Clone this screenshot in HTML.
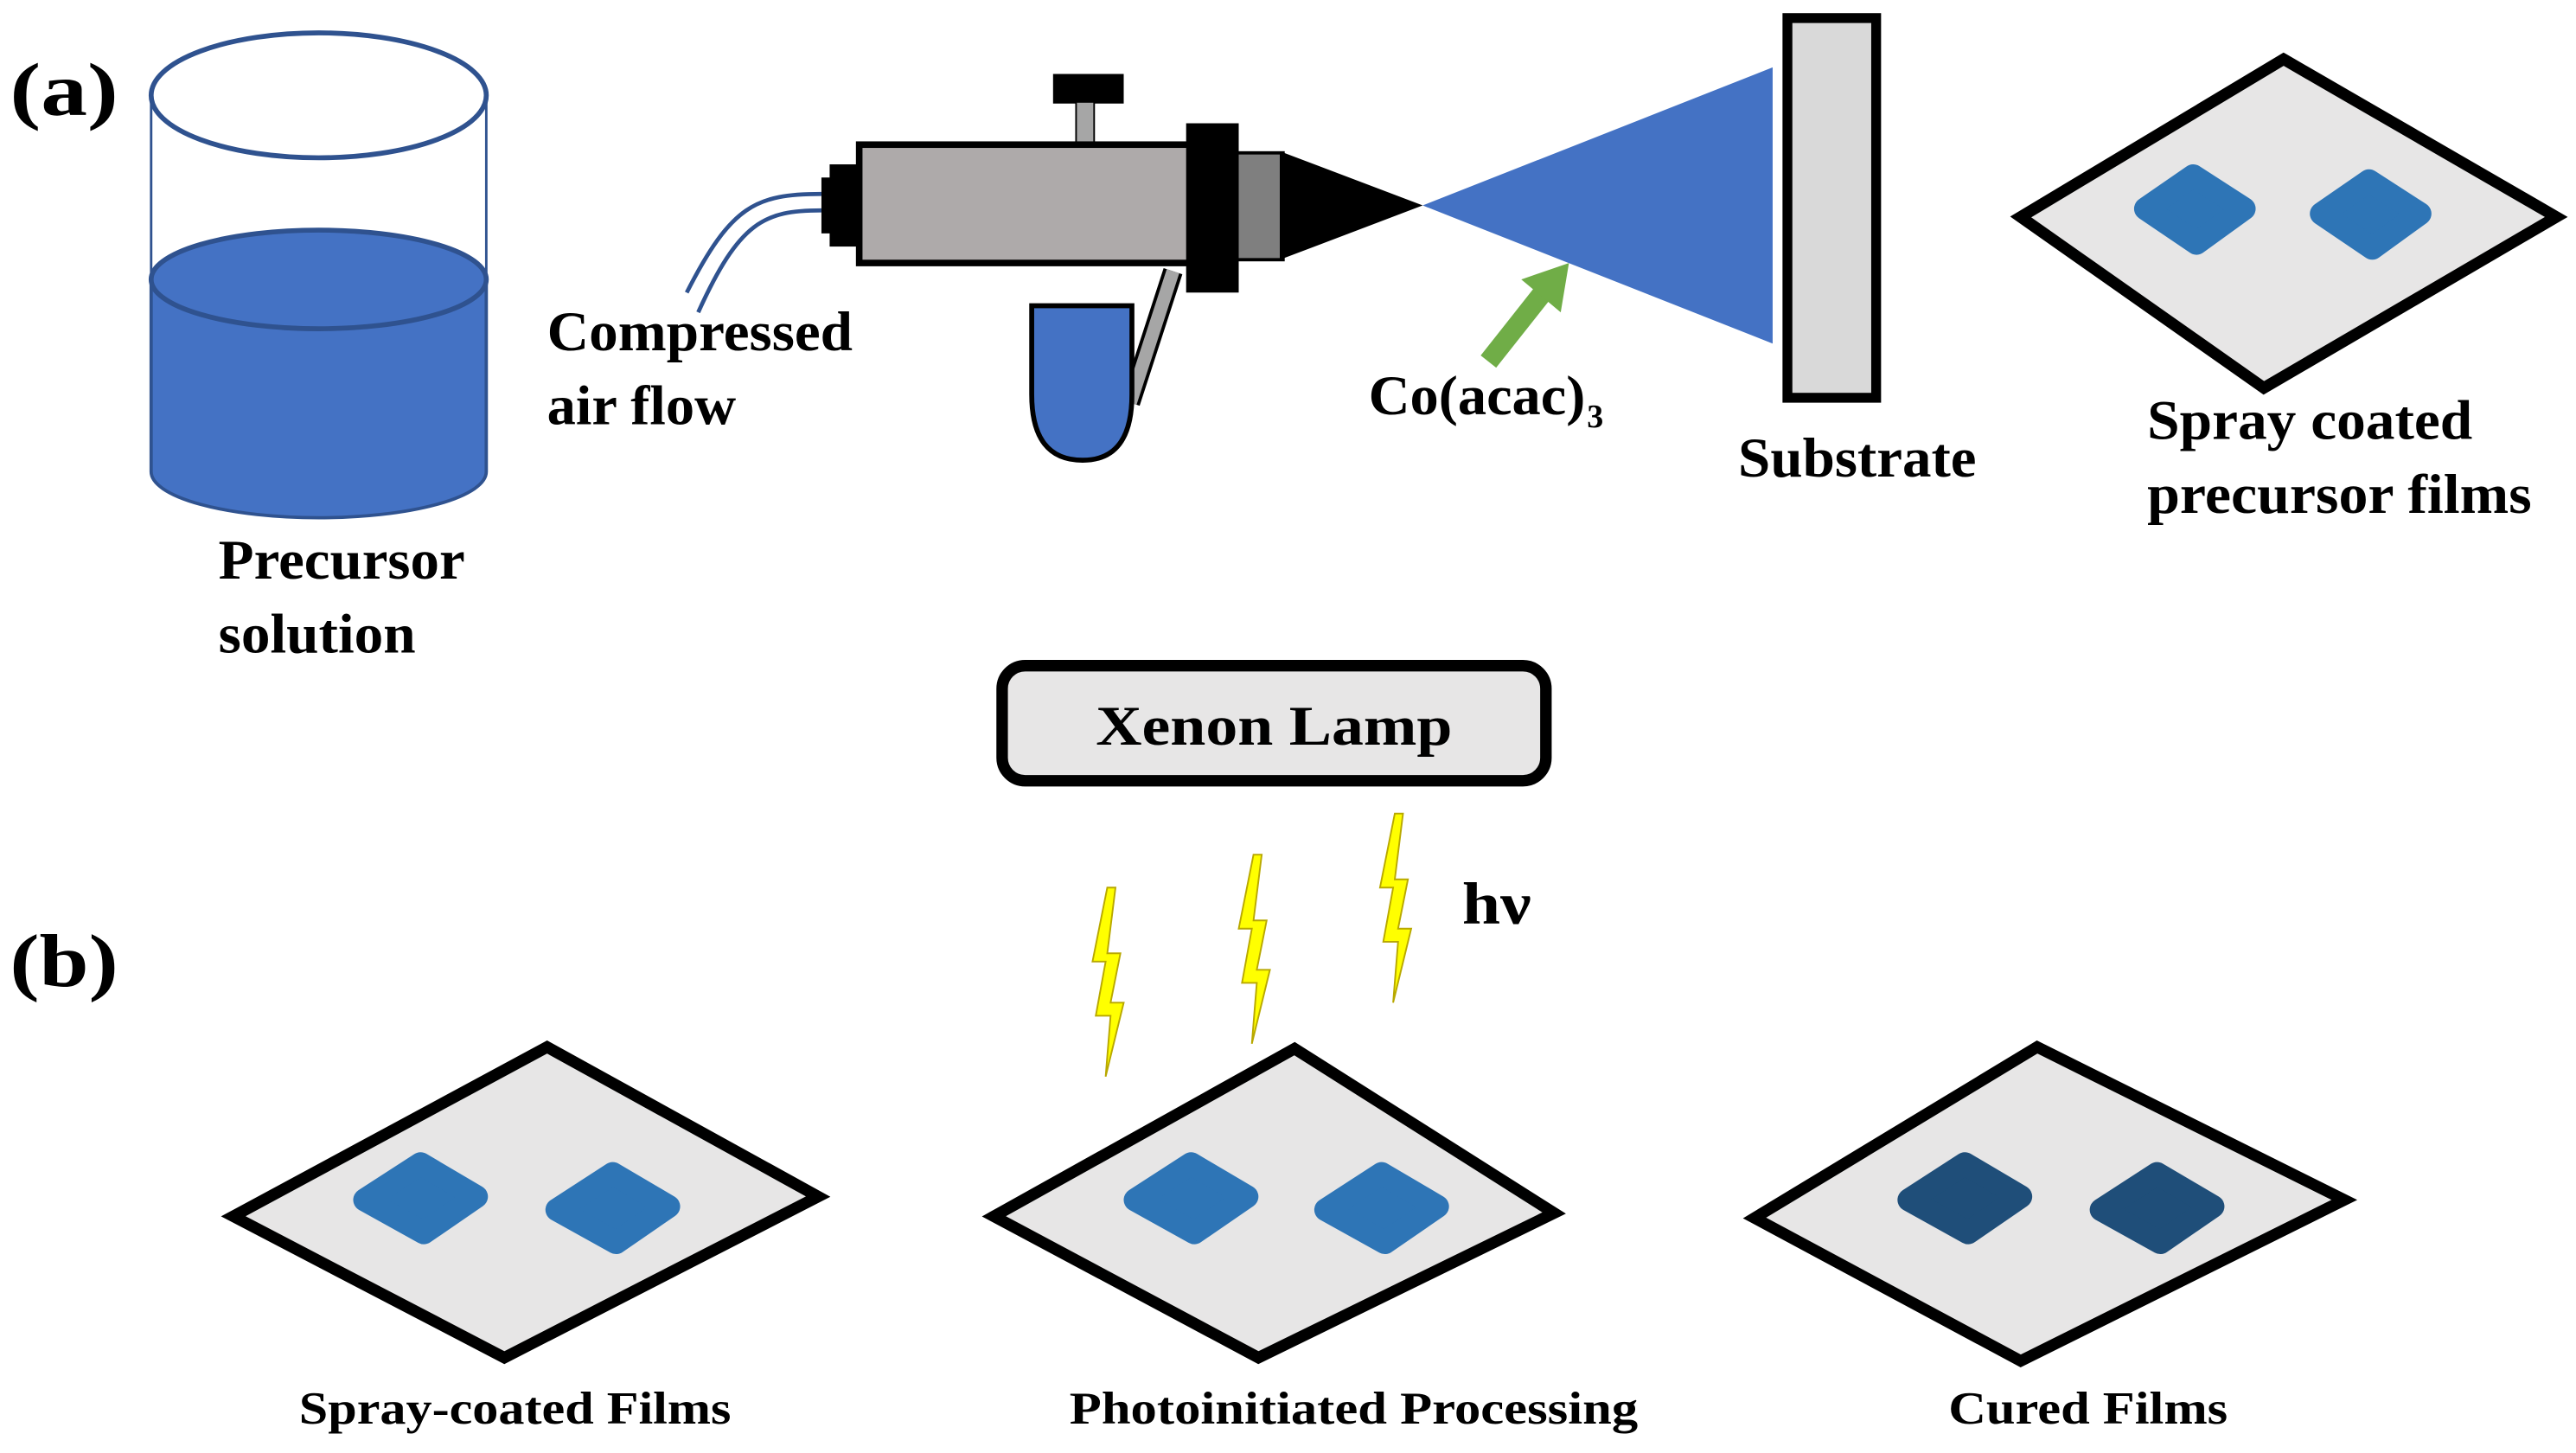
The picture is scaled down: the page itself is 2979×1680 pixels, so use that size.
<!DOCTYPE html>
<html><head><meta charset="utf-8"><style>
html,body{margin:0;padding:0;background:#fff;}
svg{display:block;}
text{font-family:"Liberation Serif",serif;font-weight:bold;fill:#000;}
</style></head><body>
<svg width="2979" height="1680" viewBox="0 0 1568 884" preserveAspectRatio="none" xmlns="http://www.w3.org/2000/svg">
<rect width="1568" height="884" fill="#fff"/>
<text x="6" y="70" font-size="46" textLength="66" lengthAdjust="spacingAndGlyphs">(a)</text>
<text x="6" y="600" font-size="46" textLength="66" lengthAdjust="spacingAndGlyphs">(b)</text>

<!-- beaker -->
<path d="M92,170 L92,287 A102,28 0 0 0 296,287 L296,170 Z" fill="#4472C4" stroke="#2F528F" stroke-width="2"/>
<ellipse cx="194" cy="170" rx="102" ry="30" fill="#4472C4" stroke="#2F528F" stroke-width="3"/>
<line x1="92" y1="58" x2="92" y2="287" stroke="#2F528F" stroke-width="1.5"/>
<line x1="296" y1="58" x2="296" y2="287" stroke="#2F528F" stroke-width="1.5"/>
<ellipse cx="194" cy="58" rx="102" ry="38" fill="none" stroke="#2F528F" stroke-width="3"/>
<text x="133" y="352" font-size="34" textLength="150" lengthAdjust="spacingAndGlyphs">Precursor</text>
<text x="133" y="397" font-size="34" textLength="120" lengthAdjust="spacingAndGlyphs">solution</text>

<!-- tubes -->
<path d="M500,118 C460,118 445,125 418,178" fill="none" stroke="#2F528F" stroke-width="2.5"/>
<path d="M500,128 C465,128 450,135 425,190" fill="none" stroke="#2F528F" stroke-width="2.5"/>
<text x="333" y="213" font-size="34" textLength="186" lengthAdjust="spacingAndGlyphs">Compressed</text>
<text x="333" y="258" font-size="34" textLength="115" lengthAdjust="spacingAndGlyphs">air flow</text>

<!-- gun -->
<rect x="641" y="45" width="43" height="18" fill="#000"/>
<rect x="655" y="62" width="11" height="28" fill="#A6A6A6" stroke="#000" stroke-width="1"/>
<line x1="714" y1="165" x2="688" y2="245" stroke="#000" stroke-width="12"/>
<line x1="714" y1="165" x2="688" y2="245" stroke="#A6A6A6" stroke-width="8"/>
<path d="M628,186 L689,186 L689,240 Q689,280 659,280 Q628,280 628,240 Z" fill="#4472C4" stroke="#000" stroke-width="3"/>
<rect x="505" y="100" width="20" height="50" fill="#000"/>
<rect x="500" y="108" width="10" height="34" fill="#000"/>
<rect x="523" y="88" width="203" height="72" fill="#AEAAAA" stroke="#000" stroke-width="4"/>
<rect x="752" y="93" width="29" height="65" fill="#7F7F7F" stroke="#000" stroke-width="2"/>
<rect x="722" y="75" width="32" height="103" fill="#000"/>
<polygon points="779,92 866,125 779,158" fill="#000"/>

<!-- spray -->
<polygon points="866,125 1079,41 1079,209" fill="#4472C4"/>
<line x1="906" y1="220" x2="940" y2="177" stroke="#70AD47" stroke-width="12"/>
<polygon points="955,160 926,170 950,190" fill="#70AD47"/>
<text x="833" y="252" font-size="34" textLength="132" lengthAdjust="spacingAndGlyphs">Co(acac)</text>
<text x="966" y="260" font-size="20">3</text>

<rect x="1088" y="11" width="54" height="231" fill="#D9D9D9" stroke="#000" stroke-width="6"/>
<text x="1058" y="290" font-size="34" textLength="145" lengthAdjust="spacingAndGlyphs">Substrate</text>

<!-- diamond top right -->
<polygon points="1390,36 1556,132 1378,236 1230,132" fill="#E7E6E6" stroke="#000" stroke-width="7" stroke-linejoin="miter"/>
<polygon points="1335,107 1366,127 1337,148 1306,127" fill="#2E75B6" stroke="#2E75B6" stroke-width="14" stroke-linejoin="round"/>
<polygon points="1442,110 1473,130 1444,151 1413,130" fill="#2E75B6" stroke="#2E75B6" stroke-width="14" stroke-linejoin="round"/>
<text x="1307" y="267" font-size="34" textLength="198" lengthAdjust="spacingAndGlyphs">Spray coated</text>
<text x="1307" y="312" font-size="34" textLength="234" lengthAdjust="spacingAndGlyphs">precursor films</text>

<!-- lamp -->
<rect x="610" y="405" width="331" height="70" rx="14" fill="#E7E6E6" stroke="#000" stroke-width="7"/>
<text x="667" y="453" font-size="34" textLength="217" lengthAdjust="spacingAndGlyphs">Xenon Lamp</text>

<!-- bolts -->
<g fill="#FFFF00" stroke="#B8A800" stroke-width="1">
<path transform="translate(664,540)" d="M10,0 L1,45 L9,45 L3,78 L12,78 L9,115 L20,70 L12,70 L18,40 L10,40 L15,0 Z"/>
<path transform="translate(753,520)" d="M10,0 L1,45 L9,45 L3,78 L12,78 L9,115 L20,70 L12,70 L18,40 L10,40 L15,0 Z"/>
<path transform="translate(839,495)" d="M10,0 L1,45 L9,45 L3,78 L12,78 L9,115 L20,70 L12,70 L18,40 L10,40 L15,0 Z"/>
</g>
<text x="890" y="562" font-size="36" textLength="42" lengthAdjust="spacingAndGlyphs">hν</text>

<!-- bottom diamonds -->
<g stroke="#000" stroke-width="7" fill="#E7E6E6">
<polygon points="333,637 498,728 307,826 142,740"/>
<polygon points="788,638 946,738 766,826 605,740"/>
<polygon points="1240,637 1427,730 1230,828 1068,741"/>
</g>
<g fill="#2E75B6" stroke="#2E75B6" stroke-width="14" stroke-linejoin="round">
<polygon points="256,708 290,728 258,750 222,730"/>
<polygon points="373,714 407,734 375,756 339,736"/>
<polygon points="725,708 759,728 727,750 691,730"/>
<polygon points="841,714 875,734 843,756 807,736"/>
</g>
<g fill="#1F4E79" stroke="#1F4E79" stroke-width="14" stroke-linejoin="round">
<polygon points="1196,708 1230,728 1198,750 1162,730"/>
<polygon points="1313,714 1347,734 1315,756 1279,736"/>
</g>
<text x="182" y="866" font-size="28" textLength="263" lengthAdjust="spacingAndGlyphs">Spray-coated Films</text>
<text x="651" y="866" font-size="28" textLength="346" lengthAdjust="spacingAndGlyphs">Photoinitiated Processing</text>
<text x="1186" y="866" font-size="28" textLength="170" lengthAdjust="spacingAndGlyphs">Cured Films</text>
</svg>
</body></html>
